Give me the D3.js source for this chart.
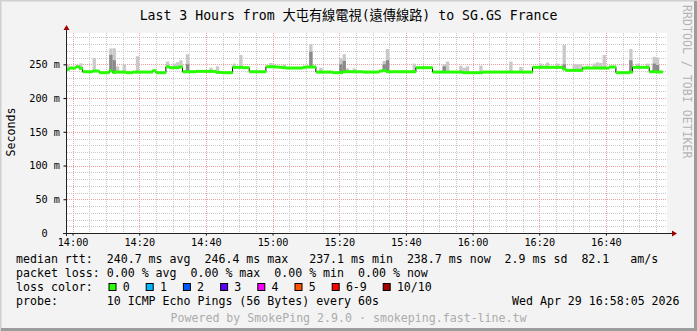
<!DOCTYPE html>
<html lang="en">
<head>
<meta charset="utf-8"/>
<script src="https://cdn.jsdelivr.net/npm/d3@7"></script>
<style>
  body { margin: 0; background: #ffffff; }
  text { font-family: "DejaVu Sans Mono", "Noto Sans CJK TC", monospace; white-space: pre; }
</style>
</head>
<body>
<svg id="chart" width="697" height="331"></svg>
<script>
// ---- data ----
// median rtt (ms), one value per minute starting 13:58
let median = [
  242.5, 244.5, 244.5, 246.4, 244, 239, 239, 239, 240, 240,
  237.6, 237.6, 237.6, 240.5, 238, 238.5, 238.5, 238.5, 237.6, 237.6,
  238.5, 238.5, 238.5, 238.5, 238.5, 238.5, 240.5, 237.6, 237.6, 237.6,
  246.2, 245, 245, 245, 246.2, 239, 239, 239, 239, 239.5,
  239.5, 239.5, 239.5, 239.5, 239.5, 238, 238, 237.6, 237.6, 237.6,
  245.5, 245.5, 245.5, 245, 245, 239, 239, 239, 239, 239,
  246.4, 246.4, 246.2, 246, 245.5, 245, 244.5, 244.5, 244.5, 244.5,
  244.5, 245.5, 246, 246, 246, 238.5, 238.5, 238.5, 238.5, 238.5,
  237.6, 237.6, 237.6, 239, 239, 239, 239, 239, 239, 238.5,
  238.5, 238.5, 238.5, 238.5, 240, 241, 239, 239, 239, 239,
  239, 239, 239, 239, 239, 245, 245, 245, 245, 245,
  238.5, 238.5, 238.5, 238.5, 238.5, 238.5, 238.5, 238.5, 238.5, 237.6,
  237.6, 237.6, 237.6, 237.6, 237.6, 238.5, 238.5, 238.5, 238.5, 238.5,
  238.5, 238.5, 238.5, 238.5, 238.5, 238.5, 238.5, 238.5, 238.5, 238.5,
  245.5, 245.5, 245.5, 245.5, 245.5, 245.5, 245.5, 245.5, 245.5, 243,
  241, 241, 241, 241, 241, 244.5, 244.5, 244.5, 244.5, 244.5,
  244.5, 244.5, 244.5, 246, 246, 237.6, 237.6, 237.6, 237.6, 238.5,
  245.5, 245.5, 245.5, 245.5, 245.5, 239, 239, 238.7, 238.7
]
// smoke: minutes where the spread of pings is visible
let smokeIdx  = [0, 4, 8, 13, 14, 15, 17, 21, 30, 32, 33, 34, 36, 43, 45, 50, 52, 61, 62, 65,
                 73, 76, 82, 83, 84, 86, 95, 96, 104, 113, 114, 118, 119, 120, 124, 133, 136,
                 142, 143, 144, 147, 149, 152, 153, 154, 156, 158, 159, 160, 161, 169, 171, 174, 176, 177]
let smokeHi   = [249, 251.5, 259.5, 273.5, 273.7, 247, 250, 262, 254, 251, 253, 256, 265, 245, 247, 251, 263.7, 252, 250, 250,
                 280, 245, 259, 265, 244, 244, 255, 272.6, 251, 250, 254, 248, 245, 247, 248, 254, 246,
                 251, 248, 252.5, 251, 278.6, 250, 250, 250, 248, 251, 253, 252, 263.8, 272.6, 251, 251, 261, 260]
let smokeDark = [0, 0, 0, 264, 256, 0, 0, 0, 248, 0, 0, 0, 250, 0, 0, 247, 0, 0, 0, 0,
                 268.7, 0, 250, 255, 0, 0, 250, 256, 0, 247, 0, 0, 0, 0, 0, 0, 0,
                 0, 0, 0, 0, 250, 0, 0, 0, 0, 0, 0, 0, 0, 256, 0, 0, 251, 249]

let yMajor = [0, 50, 100, 150, 200, 250]
let yLabels = ["0  ", "50 m", "100 m", "150 m", "200 m", "250 m"]
let lossLabels = ["0", "1", "2", "3", "4", "5", "6-9", "10/10"]
let lossColors = ["#26ff00", "#00b8ff", "#0059ff", "#5e00ff", "#ff00ff", "#ff5500", "#ff0000", "#a00000"]

let title = "Last 3 Hours from 大屯有線電視(遠傳線路) to SG.GS France"
let legendRows = [
  "median rtt:  240.7 ms avg  246.4 ms max   237.1 ms min  238.7 ms now  2.9 ms sd  82.1   am/s",
  "packet loss: 0.00 % avg  0.00 % max  0.00 % min  0.00 % now",
  "loss color:",
  "probe:       10 ICMP Echo Pings (56 Bytes) every 60s"
]
let stamp = "Wed Apr 29 16:58:05 2026"
let footer = "Powered by SmokePing 2.9.0 · smokeping.fast-line.tw"

// ---- layout ----
let width = 697, height = 331
let pLeft = 67, pRight = 667, pTop = 33, pBottom = 233

let svg = d3.select("#chart")
let t0 = new Date(2026, 3, 29, 13, 58, 20)
let t1 = new Date(2026, 3, 29, 16, 58, 20)
let dataStart = new Date(2026, 3, 29, 13, 58, 0)
let timeOf = i => d3.timeMinute.offset(dataStart, i)

let xScale = d3.scaleTime().domain([t0, t1]).range([pLeft, pRight])
let yScale = d3.scaleLinear().domain([0, 296.4]).range([pBottom, pTop])

// canvas + frame
svg.append("rect").attr("width", width).attr("height", height).attr("fill", "#f3f3f3")
svg.append("path").attr("d", "M0.5,331 V0.5 H697").attr("stroke", "#d0d0d0").attr("stroke-width", 2).attr("fill", "none")
svg.append("path").attr("d", "M1,329.5 H695.5 V1").attr("stroke", "#9c9c9c").attr("stroke-width", 3).attr("fill", "none")

svg.append("rect").attr("x", pLeft).attr("y", pTop)
   .attr("width", pRight - pLeft).attr("height", pBottom - pTop).attr("fill", "#ffffff")

svg.append("clipPath").attr("id", "plotclip").append("rect")
   .attr("x", pLeft).attr("y", pTop).attr("width", pRight - pLeft).attr("height", pBottom - pTop)

// grid
let minorX = d3.timeMinute.every(5).range(t0, t1).filter(d => d.getMinutes() % 20 != 0)
let majorX = d3.timeMinute.every(20).range(t0, t1)
let minorY = d3.range(10, 300, 10).filter(v => v % 50 != 0 && yScale(v) >= pTop)

let grid = svg.append("g")
grid.selectAll(".gx").data(minorX).enter().append("line")
    .attr("x1", d => Math.round(xScale(d)) + 0.5).attr("x2", d => Math.round(xScale(d)) + 0.5)
    .attr("y1", pTop).attr("y2", pBottom)
    .attr("stroke", "#c8c8c8").attr("stroke-dasharray", "1,1")
grid.selectAll(".gy").data(minorY).enter().append("line")
    .attr("y1", d => Math.round(yScale(d)) + 0.5).attr("y2", d => Math.round(yScale(d)) + 0.5)
    .attr("x1", pLeft).attr("x2", pRight)
    .attr("stroke", "#c8c8c8").attr("stroke-dasharray", "1,1")
grid.selectAll(".mx").data(majorX).enter().append("line")
    .attr("x1", d => Math.round(xScale(d)) + 0.5).attr("x2", d => Math.round(xScale(d)) + 0.5)
    .attr("y1", pTop).attr("y2", pBottom)
    .attr("stroke", "#f0a0a0").attr("stroke-dasharray", "1,1")
grid.selectAll(".my").data(yMajor.slice(1)).enter().append("line")
    .attr("y1", d => Math.round(yScale(d)) + 0.5).attr("y2", d => Math.round(yScale(d)) + 0.5)
    .attr("x1", pLeft).attr("x2", pRight)
    .attr("stroke", "#f0a0a0").attr("stroke-dasharray", "1,1")

// smoke
let plot = svg.append("g").attr("clip-path", "url(#plotclip)")
let smoke = smokeIdx.map((idx, k) => ({ i: idx, hi: smokeHi[k], dark: smokeDark[k], med: median[idx] }))

plot.selectAll(".smoke").data(smoke).enter().append("rect")
    .attr("x", d => xScale(timeOf(d.i)))
    .attr("width", d => xScale(timeOf(d.i + 1)) - xScale(timeOf(d.i)))
    .attr("y", d => yScale(d.hi))
    .attr("height", d => yScale(d.med - 1.5) - yScale(d.hi))
    .attr("fill", "#c9c9c9")
plot.selectAll(".smokedark").data(smoke.filter(d => d.dark > 0)).enter().append("rect")
    .attr("x", d => xScale(timeOf(d.i)))
    .attr("width", d => xScale(timeOf(d.i + 1)) - xScale(timeOf(d.i)))
    .attr("y", d => yScale(d.dark))
    .attr("height", d => yScale(d.med) - yScale(d.dark))
    .attr("fill", "#8a8a8a")

// median: thin black step line, then green loss-coloured segments
let stepPts = median.map((v, i) => [timeOf(i), v])
stepPts.push([timeOf(median.length), median[median.length - 1]])
plot.append("path")
    .attr("d", d3.line().x(d => xScale(d[0])).y(d => yScale(d[1])).curve(d3.curveStepAfter)(stepPts))
    .attr("fill", "none").attr("stroke", "#000000").attr("stroke-width", 1)
plot.selectAll(".med").data(median).enter().append("rect")
    .attr("x", (d, i) => xScale(timeOf(i)))
    .attr("width", (d, i) => xScale(timeOf(i + 1)) - xScale(timeOf(i)) + 0.3)
    .attr("y", d => yScale(d) - 1.5)
    .attr("height", 3)
    .attr("fill", lossColors[0])

// axes
let yAxis = d3.axisLeft(yScale).tickValues(yMajor).tickFormat((d, i) => yLabels[i])
    .tickSize(3).tickPadding(3.5)
let gy = svg.append("g").attr("transform", "translate(" + (pLeft - 0.5) + ",0)").call(yAxis)
gy.select(".domain").remove()
gy.selectAll("text").attr("font-size", "10.2px").attr("fill", "#000").style("font-family", "DejaVu Sans Mono")

let xAxis = d3.axisBottom(xScale).tickValues(majorX).tickFormat(d3.timeFormat("%H:%M"))
    .tickSize(2).tickPadding(2.8)
let gx = svg.append("g").attr("transform", "translate(0," + (pBottom + 0.5) + ")").call(xAxis)
gx.select(".domain").remove()
gx.selectAll("text").attr("font-size", "10.2px").attr("fill", "#000").style("font-family", "DejaVu Sans Mono")

svg.append("line").attr("x1", pLeft - 0.5).attr("x2", pLeft - 0.5).attr("y1", pBottom + 3).attr("y2", pTop - 5)
   .attr("stroke", "#222")
svg.append("line").attr("x1", pLeft - 4).attr("x2", pRight + 6).attr("y1", pBottom + 0.5).attr("y2", pBottom + 0.5)
   .attr("stroke", "#222")
svg.append("path").attr("d", `M${pLeft - 3.5},${pTop - 3} L${pLeft - 0.5},${pTop - 8} L${pLeft + 2.5},${pTop - 3} Z`).attr("fill", "#a00000")
svg.append("path").attr("d", `M${pRight + 5},${pBottom - 2.5} L${pRight + 10},${pBottom + 0.5} L${pRight + 5},${pBottom + 3.5} Z`).attr("fill", "#a00000")

// texts
svg.append("text").attr("x", width / 2).attr("y", 19.5).attr("text-anchor", "middle")
   .attr("font-size", "13.2px").attr("fill", "#000").text(title)

svg.append("text").attr("transform", "translate(14.5,132) rotate(-90)").attr("text-anchor", "middle")
   .attr("font-size", "11.6px").attr("fill", "#000").text("Seconds")

svg.append("text").attr("transform", "translate(682.5,5) rotate(90)")
   .attr("font-size", "11.6px").attr("fill", "#b4b4b4").text("RRDTOOL / TOBI OETIKER")

let rowY = [263, 277, 291, 305]
svg.selectAll(".leg").data(legendRows).enter().append("text")
   .attr("x", 16).attr("y", (d, i) => rowY[i])
   .attr("font-size", "11.6px").attr("fill", "#000").text(d => d)

svg.append("text").attr("x", 512).attr("y", rowY[3]).attr("font-size", "11.6px").attr("fill", "#000").text(stamp)

let boxX = [108.5, 145.7, 182.9, 220.1, 257.3, 294.5, 331.7, 382.7]
let lg = svg.selectAll(".lc").data(lossLabels).enter().append("g")
   .attr("transform", (d, i) => "translate(" + boxX[i] + "," + (rowY[2] - 8) + ")")
lg.append("rect").attr("x", 0.5).attr("y", 0.5).attr("width", 7).attr("height", 7)
   .attr("fill", (d, i) => lossColors[i]).attr("stroke", "#000")
lg.append("text").attr("x", 14.2).attr("y", 8).attr("font-size", "11.6px").attr("fill", "#000").text(d => d)

svg.append("text").attr("x", width / 2).attr("y", 322).attr("text-anchor", "middle")
   .attr("font-size", "11.6px").attr("fill", "#acacac").text(footer)
</script>
</body>
</html>
